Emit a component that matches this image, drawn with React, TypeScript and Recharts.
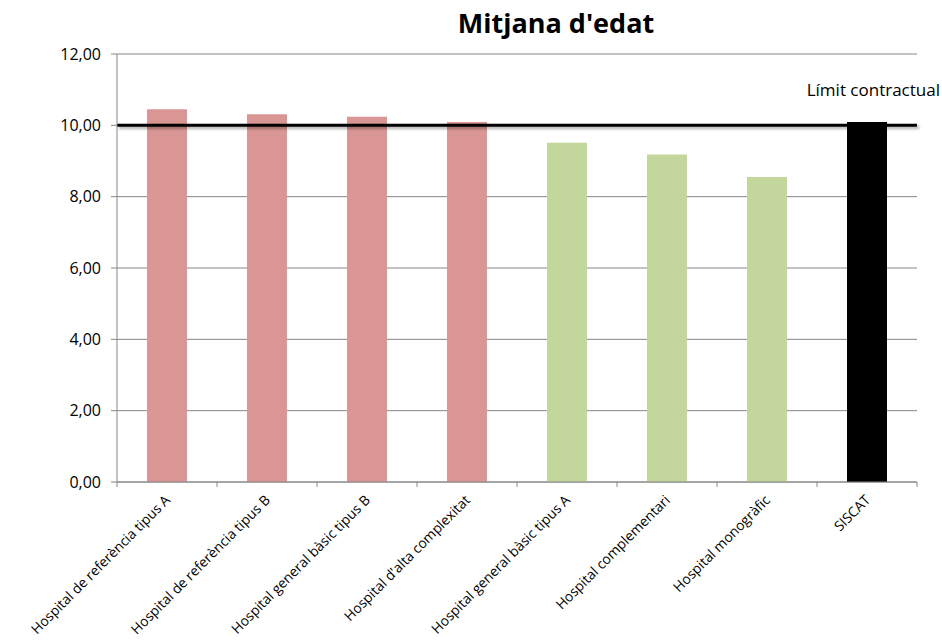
import React from 'react';
import { BarChart, Bar, XAxis, YAxis, CartesianGrid, ReferenceLine, Cell } from 'recharts';

const categories = [
  'Hospital de referència tipus A',
  'Hospital de referència tipus B',
  'Hospital general bàsic tipus B',
  "Hospital d'alta complexitat",
  'Hospital general bàsic tipus A',
  'Hospital complementari',
  'Hospital monogràfic',
  'SISCAT',
];
const values = [10.45, 10.31, 10.24, 10.09, 9.51, 9.18, 8.55, 10.09];
const groups = ['above', 'above', 'above', 'above', 'below', 'below', 'below', 'total'];
const yTicks = [0, 2, 4, 6, 8, 10, 12];
const limitValue = 10;
const limitLabel = 'Límit contractual';
const title = "Mitjana d'edat";

const groupColors: Record<string, string> = {
  above: '#D99694',
  below: '#C3D69B',
  total: '#000000',
};

const data = categories.map((name, i) => ({ name, value: values[i], group: groups[i] }));

const W = 942;
const H = 642;
const plotLeft = 117;
const plotRight = 917;
const plotTop = 54;
const plotBottom = 482;
const bandW = (plotRight - plotLeft) / categories.length;
const FONT = '"Open Sans", "DejaVu Sans", sans-serif';

const fmt = (v: number) => v.toFixed(2).replace('.', ',');

const XTick = (props: any) => {
  const { x, y, payload, index } = props;
  const isLast = index === categories.length - 1;
  return (
    <g>
      <line x1={x - bandW / 2} x2={x - bandW / 2} y1={y - 8} y2={y - 3} stroke="#868686" />
      {isLast && <line x1={x + bandW / 2} x2={x + bandW / 2} y1={y - 8} y2={y - 3} stroke="#868686" />}
      <text
        x={x + 4}
        y={y + 11}
        textAnchor="end"
        fontSize={13.8}
        fontFamily={FONT}
        fill="#000"
        transform={`rotate(-45, ${x + 4}, ${y + 11})`}
      >
        {payload.value}
      </text>
    </g>
  );
};

const LimitLabel = (props: any) => {
  const vb = props.viewBox || {};
  return (
    <text
      x={(vb.x ?? 0) + (vb.width ?? 0) + 23}
      y={(vb.y ?? 0) - 29}
      textAnchor="end"
      fontSize={17}
      fontFamily={FONT}
      fill="#000"
    >
      {limitLabel}
    </text>
  );
};

export default function App() {
  return (
    <div style={{ position: 'absolute', left: 0, top: 0, width: W, height: H, background: '#fff' }}>
      <div
        style={{
          position: 'absolute',
          left: 0,
          width: 1112,
          top: 4,
          textAlign: 'center',
          fontFamily: FONT,
          fontWeight: 700,
          fontSize: 27,
          color: '#000',
        }}
      >
        {title}
      </div>
      <BarChart
        width={W}
        height={H}
        data={data}
        margin={{ top: plotTop, right: W - plotRight, bottom: H - plotBottom - 130, left: plotLeft - 60 }}
        barCategoryGap="30%"
      >
        <defs>
          <filter id="lineShadow" filterUnits="userSpaceOnUse" x="0" y="0" width={W} height={H}>
            <feDropShadow dx="2" dy="2" stdDeviation="1.5" floodColor="#000" floodOpacity="0.35" />
          </filter>
        </defs>
        <CartesianGrid vertical={false} stroke="#868686" />
        <XAxis
          dataKey="name"
          interval={0}
          height={130}
          tick={<XTick />}
          tickLine={false}
          axisLine={{ stroke: '#868686' }}
        />
        <YAxis
          width={60}
          domain={[0, 12]}
          ticks={yTicks}
          tickFormatter={fmt}
          tick={{ fontSize: 16, fontFamily: FONT, fill: '#000' }}
          tickLine={{ stroke: '#868686' }}
          tickSize={6}
          tickMargin={10}
          axisLine={{ stroke: '#868686' }}
          interval={0}
        />
        <Bar dataKey="value" isAnimationActive={false}>
          {data.map((d, i) => (
            <Cell key={i} fill={groupColors[d.group]} />
          ))}
        </Bar>
        <ReferenceLine
          y={limitValue}
          stroke="#000"
          strokeWidth={3}
          filter="url(#lineShadow)"
          label={<LimitLabel />}
        />
      </BarChart>
    </div>
  );
}
